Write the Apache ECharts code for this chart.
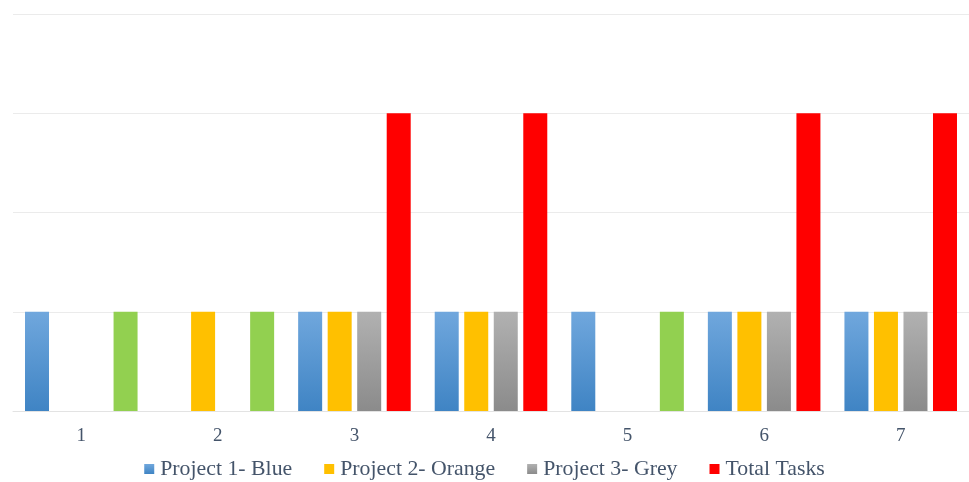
<!DOCTYPE html>
<html>
<head>
<meta charset="utf-8">
<script src="https://cdn.jsdelivr.net/npm/echarts@6/dist/echarts.min.js"></script>
<style>
  html, body { margin: 0; padding: 0; background: #fff; }
  #chart { width: 969px; height: 482px; }
</style>
</head>
<body>
<div id="chart"></div>
<script>
const categories = ['1', '2', '3', '4', '5', '6', '7']
const project1 = [1, 0, 1, 1, 1, 1, 1]
const project2 = [0, 1, 1, 1, 0, 1, 1]
const project3 = [0, 0, 1, 1, 0, 1, 1]
const totalTasks = [1, 1, 3, 3, 1, 3, 3]

const textColor = '#44546a'
const fontFamily = '"Liberation Serif", "Times New Roman", serif'

function vGrad (top, bottom) {
  return new echarts.graphic.LinearGradient(0, 0, 0, 1, [
    { offset: 0, color: top },
    { offset: 1, color: bottom }
  ])
}

const myChart = echarts.init(document.getElementById('chart'))
const option = {
  animation: false,
  grid: {
    left: 13,
    right: -3,
    top: 14,
    bottom: 71
  },
  legend: {
    top: 453,
    left: 'center',
    itemWidth: 10,
    itemHeight: 10,
    itemGap: 32,
    icon: 'rect',
    textStyle: {
      color: textColor,
      fontSize: 21.8,
      fontFamily: fontFamily,
      padding: [0, 0, 0, 1]
    },
    data: ['Project 1- Blue', 'Project 2- Orange', 'Project 3- Grey', 'Total Tasks']
  },
  xAxis: {
    type: 'category',
    data: categories,
    axisLine: { lineStyle: { color: '#e3e3e3' } },
    axisTick: { show: false },
    axisLabel: {
      color: textColor,
      fontSize: 19,
      fontFamily: fontFamily,
      margin: 16
    }
  },
  yAxis: {
    type: 'value',
    min: 0,
    max: 4,
    interval: 1,
    axisLabel: { show: false },
    axisLine: { show: false },
    axisTick: { show: false },
    splitLine: { lineStyle: { color: '#ebebeb' } }
  },
  series: [
    {
      name: 'Project 1- Blue',
      type: 'bar',
      barWidth: 24,
      barGap: '23%',
      itemStyle: { color: vGrad('#70a7dd', '#3f84c4') },
      data: project1
    },
    {
      name: 'Project 2- Orange',
      type: 'bar',
      barWidth: 24,
      barGap: '23%',
      itemStyle: { color: '#ffc000' },
      data: project2
    },
    {
      name: 'Project 3- Grey',
      type: 'bar',
      barWidth: 24,
      barGap: '23%',
      itemStyle: { color: vGrad('#b1b1b1', '#8b8b8b') },
      data: project3
    },
    {
      name: 'Total Tasks',
      type: 'bar',
      barWidth: 24,
      barGap: '23%',
      itemStyle: { color: '#ff0000' },
      // single-task days are shown in green
      data: totalTasks.map(v => (v < 3 ? { value: v, itemStyle: { color: '#92d050' } } : v))
    }
  ]
}
myChart.setOption(option, true)
</script>
</body>
</html>
